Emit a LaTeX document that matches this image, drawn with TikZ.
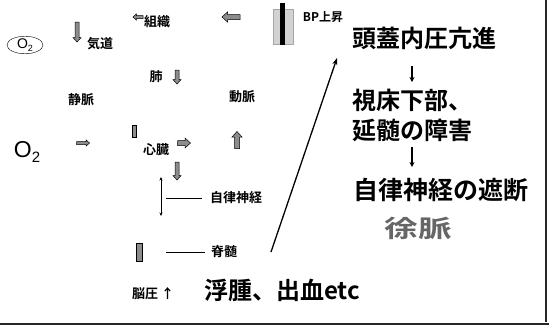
\documentclass[tikz,border=0pt]{standalone}
\usepackage{fontspec}
\usetikzlibrary{shapes.geometric,arrows.meta}
\setmainfont{Liberation Sans}
\newfontfamily\jp{Noto Sans CJK JP Bold}
\newfontfamily\jpb{Noto Sans CJK JP Bold}
\tikzset{
  sm/.style={font=\jp\fontsize{13}{14}\selectfont, inner sep=0pt},
  bigt/.style={font=\jpb\fontsize{24}{25}\selectfont, inner sep=0pt},
  hatch/.style={fill=black!45, draw=black, line width=0.5pt},
  hbar/.style={rectangle, hatch, inner sep=0pt},
  thinline/.style={line width=0.5pt},
  tip/.style={-{Stealth[length=5pt,width=5pt]}, line width=1.1pt},
}
% fat hatched arrow: x, y, angle, length, head width
\newcommand\fatarr[5]{%
  \begin{scope}[shift={(#1,#2)},rotate=#3]
    \filldraw[hatch] ({-#4/2},{-#5/4}) -- ({#4/2-0.55*#5},{-#5/4}) -- ({#4/2-0.55*#5},{-#5/2})
      -- ({#4/2},0) -- ({#4/2-0.55*#5},{#5/2}) -- ({#4/2-0.55*#5},{#5/4}) -- ({-#4/2},{#5/4}) -- cycle;
  \end{scope}}
\begin{document}
\begin{tikzpicture}[x=1pt,y=-1pt]
\useasboundingbox (0,0) rectangle (549,327);
% frame lines
\draw[line width=2.5pt, black!85] (0,324) -- (549,324);
\draw[line width=1.5pt, black!85] (546,0) -- (546,322);

% left column diagram
\node[ellipse, draw, line width=0.4pt, minimum width=36pt, minimum height=16pt, inner sep=0pt,
      font=\fontsize{14}{14}\selectfont] (o2s) at (25,45) {O\raisebox{-0.35ex}{\fontsize{9}{9}\selectfont 2}};
\fatarr{77}{32}{-90}{20}{8}
\node[sm] (kido) at (100,44) {気道};
\fatarr{138}{17}{180}{10}{6}
\node[sm] (soshiki) at (157,22) {組織};
\fatarr{231}{17}{180}{18}{10}
\node[hbar, fill=gray!35, draw=gray!70, minimum width=20pt, minimum height=35pt] (bphatch) at (283,27) {};
\node[rectangle, fill=black, inner sep=0pt, minimum width=5pt, minimum height=42pt] (bpbar) at (282.5,24) {};
\node[sm, font=\jp\fontsize{12}{13}\selectfont] (bp) at (323,17) {BP上昇};
\node[sm] (hai) at (156,77) {肺};
\fatarr{177}{77}{-90}{14}{8}
\node[sm] (jomyaku) at (81,100) {静脈};
\node[sm] (domyaku) at (242,97) {動脈};
\node[font=\fontsize{23}{23}\selectfont, inner sep=0pt] (o2b) at (27,152) {O\raisebox{-0.4ex}{\fontsize{15}{15}\selectfont 2}};
\fatarr{83}{143}{0}{13}{6}
\node[hbar, minimum width=4pt, minimum height=12pt] (smallbar) at (134,131) {};
\node[sm] (shinzo) at (156,150) {心臓};
\fatarr{184}{143}{0}{13}{10}
\fatarr{237}{140}{90}{17}{10}
\fatarr{177}{171}{-90}{18}{8}
\coordinate (dtop) at (161,177);
\coordinate (dbot) at (161,216);
\draw[{Stealth[length=3.5pt,width=3pt]}-{Stealth[length=3.5pt,width=3pt]}, thinline] (dtop) -- (dbot);
\node[sm] (jiritsu) at (236,198) {自律神経};
\coordinate (l1) at (166,198);
\draw[thinline] (l1) -- ([xshift=-8pt]jiritsu.west);
\node[hbar, minimum width=6pt, minimum height=18pt] (sekibar) at (139,252) {};
\node[sm] (sekizui) at (224,252) {脊髄};
\coordinate (l2) at (166,252);
\draw[thinline] (l2) -- ([xshift=-6pt]sekizui.west);
\node[sm, anchor=west] (noatsu) at (132,294) {脳圧 ↑};
\node[bigt, anchor=west] (fushu) at (204,290) {浮腫、出血etc};

% long arrow
\coordinate (la1) at (271,252);
\coordinate (la2) at (337,58);
\draw[-{Stealth[length=7pt,width=5pt]}, line width=1.3pt] (la1) -- (la2);

% right column
\node[bigt, anchor=west] (t1) at (352,38) {頭蓋内圧亢進};
\coordinate (a1s) at (412,66);
\coordinate (a1e) at (412,82);
\draw[tip] (a1s) -- (a1e);
\node[bigt, anchor=west] (t2) at (352,100) {視床下部、};
\node[bigt, anchor=west] (t3) at (352,130) {延髄の障害};
\coordinate (a2s) at (412,147);
\coordinate (a2e) at (412,167);
\draw[tip] (a2s) -- (a2e);
\node[bigt, font=\jpb\fontsize{25}{26}\selectfont, anchor=west] (t4) at (353,190) {自律神経の遮断};
\node[bigt, text=black!60, xscale=1.4] (t5) at (418,228) {徐脈};
\end{tikzpicture}
\end{document}
